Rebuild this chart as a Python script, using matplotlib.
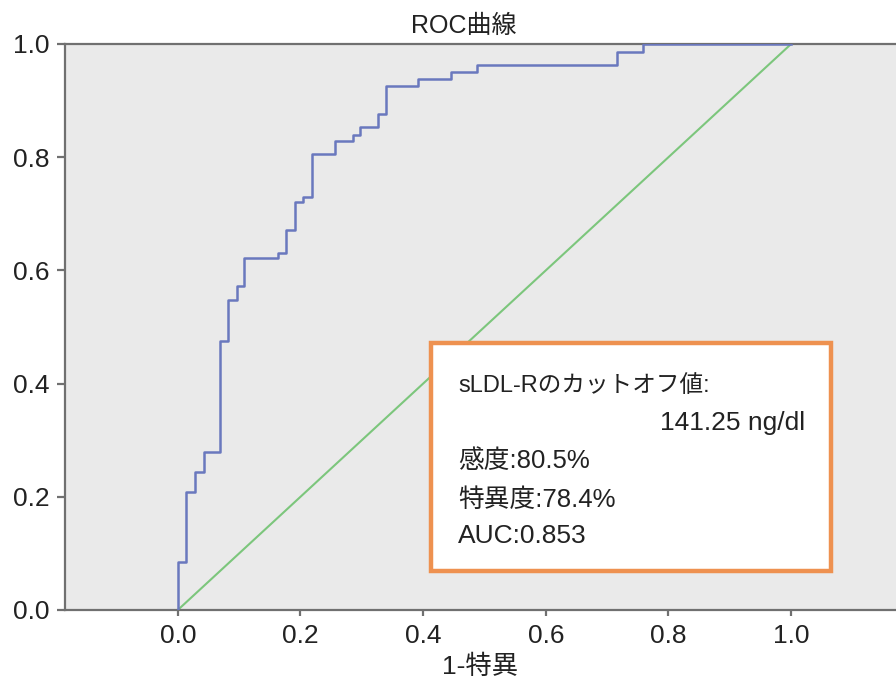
import numpy as np
import matplotlib
matplotlib.use("Agg")
import matplotlib.pyplot as plt
from matplotlib.patches import Rectangle

plt.rcParams['font.family'] = ['Liberation Sans', 'Noto Sans CJK JP', 'DejaVu Sans']

# ROC curve corners (1 - specificity, sensitivity)
fpr = [0.0, 0.0, 0.014, 0.014, 0.028, 0.028, 0.042, 0.042, 0.069, 0.069,
       0.082, 0.082, 0.097, 0.097, 0.108, 0.108, 0.163, 0.163, 0.177, 0.177,
       0.191, 0.191, 0.204, 0.204, 0.218, 0.218, 0.256, 0.256, 0.285, 0.285,
       0.297, 0.297, 0.327, 0.327, 0.339, 0.339, 0.392, 0.392, 0.446, 0.446,
       0.488, 0.488, 0.716, 0.716, 0.759, 0.759, 1.0]
tpr = [0.0, 0.085, 0.085, 0.208, 0.208, 0.244, 0.244, 0.280, 0.280, 0.476,
       0.476, 0.548, 0.548, 0.573, 0.573, 0.622, 0.622, 0.631, 0.631, 0.671,
       0.671, 0.720, 0.720, 0.730, 0.730, 0.806, 0.806, 0.829, 0.829, 0.839,
       0.839, 0.853, 0.853, 0.876, 0.876, 0.926, 0.926, 0.938, 0.938, 0.951,
       0.951, 0.963, 0.963, 0.986, 0.986, 1.0, 1.0]
ref_line = [0.0, 1.0]

ticks = [0.0, 0.2, 0.4, 0.6, 0.8, 1.0]
tick_labels = ['0.0', '0.2', '0.4', '0.6', '0.8', '1.0']

info_lines = ['sLDL-Rのカットオフ値:', '141.25 ng/dl', '感度:80.5%', '特異度:78.4%', 'AUC:0.853']

fig = plt.figure(figsize=(8.96, 6.83), dpi=100)
ax = fig.add_axes([0.0725, 0.1069, 0.9275, 0.8287])
ax.set_facecolor('#EAEAEA')

ax.plot(ref_line, ref_line, color='#7CC67C', lw=1.5, zorder=2)
ax.plot(fpr, tpr, color='#6A78BE', lw=1.8, zorder=3)

ax.set_xlim(-0.184, 1.171)
ax.set_ylim(0.0, 1.0)
ax.set_xticks(ticks)
ax.set_xticklabels(tick_labels)
ax.set_yticks(ticks)
ax.set_yticklabels(tick_labels)

for side in ['left', 'bottom', 'top']:
    ax.spines[side].set_color('#707070')
    ax.spines[side].set_linewidth(1.6)
ax.spines['right'].set_visible(False)
ax.tick_params(axis='y', length=6, width=1.6, color='#707070', pad=5,
               labelsize=19, labelcolor='#222222')
ax.tick_params(axis='x', length=4, width=1.6, color='#707070', pad=6,
               labelsize=19, labelcolor='#222222')

ax.set_title('ROC曲線', fontsize=18, color='#222222', pad=8, x=0.48)
ax.set_xlabel('1-特異', fontsize=19, color='#222222', labelpad=5)

# info box
box = Rectangle((0.4404, 0.0689), 0.4814, 0.4028, transform=ax.transAxes,
                facecolor='white', edgecolor='#EE9150', lw=3.2, zorder=5)
ax.add_patch(box)
text_kw = dict(transform=ax.transAxes, va='baseline', color='#222222', zorder=6)
ax.text(0.473, 0.3857, info_lines[0], fontsize=17, ha='left', **text_kw)
ax.text(0.8905, 0.318, info_lines[1], fontsize=19, ha='right', **text_kw)
ax.text(0.473, 0.2509, info_lines[2], fontsize=18.5, ha='left', **text_kw)
ax.text(0.473, 0.1825, info_lines[3], fontsize=18.5, ha='left', **text_kw)
ax.text(0.473, 0.1184, info_lines[4], fontsize=19, ha='left', **text_kw)

fig.savefig('out.png', dpi=100)
